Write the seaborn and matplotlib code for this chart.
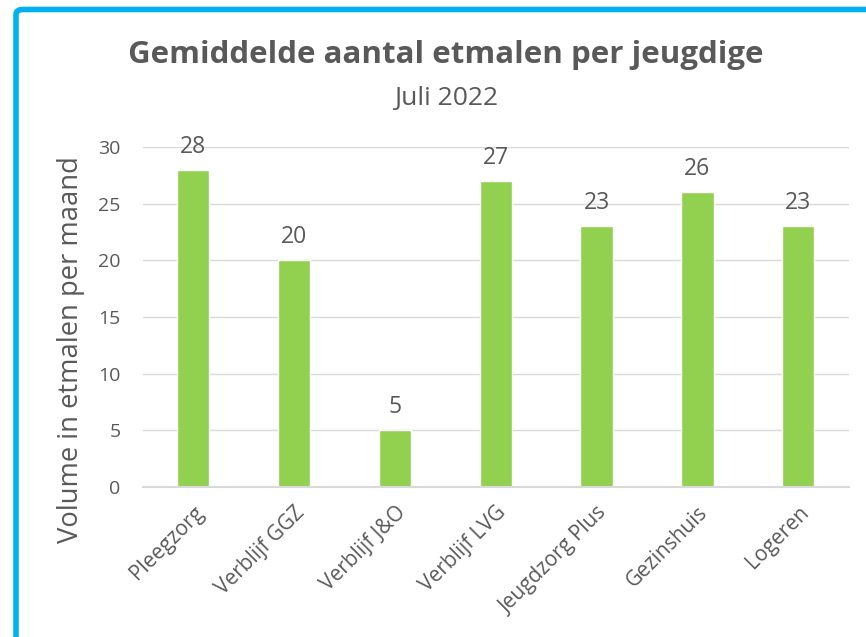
import matplotlib
matplotlib.use('Agg')
import matplotlib.pyplot as plt
import seaborn as sns
import pandas as pd
from matplotlib.patches import FancyBboxPatch

# Gegevens uit de grafiek
categorieen = ['Pleegzorg', 'Verblijf GGZ', 'Verblijf J&O', 'Verblijf LVG',
               'Jeugdzorg Plus', 'Gezinshuis', 'Logeren']
etmalen = [28, 20, 5, 27, 23, 26, 23]
y_ticks = [0, 5, 10, 15, 20, 25, 30]

titel = 'Gemiddelde aantal etmalen per jeugdige'
subtitel = 'Juli 2022'
y_label = 'Volume in etmalen per maand'

sns.set_theme(style='white')
plt.rcParams['font.family'] = ['Open Sans', 'DejaVu Sans']

tekst_kleur = '#595959'
groen = '#92D050'

df = pd.DataFrame({'categorie': categorieen, 'etmalen': etmalen})

fig = plt.figure(figsize=(8.66, 6.37), dpi=100)
ax = fig.add_axes([0.165, 0.2355, 0.815, 0.5335])

sns.barplot(data=df, x='categorie', y='etmalen', color=groen, width=0.32,
            saturation=1, ax=ax)

ax.set_ylim(0, 30)
ax.set_yticks(y_ticks)
ax.set_xlim(-0.5, len(categorieen) - 0.5)
ax.yaxis.grid(True, color='#D9D9D9', linewidth=1)
ax.set_axisbelow(True)
for kant in ['top', 'right', 'left']:
    ax.spines[kant].set_visible(False)
ax.spines['bottom'].set_color('#D9D9D9')
ax.spines['bottom'].set_linewidth(1.5)

ax.tick_params(axis='y', labelsize=14, colors=tekst_kleur, length=0, pad=16)
ax.tick_params(axis='x', labelsize=15, colors=tekst_kleur, length=0, pad=11)
plt.setp(ax.get_xticklabels(), rotation=45, ha='right', rotation_mode='anchor')

ax.set_xlabel('')
ax.set_ylabel(y_label, fontsize=19.7, color=tekst_kleur)
ax.yaxis.set_label_coords(-0.082, 0.403)

for cont in ax.containers:
    ax.bar_label(cont, fmt='%d', padding=8, fontsize=16.5, color=tekst_kleur)

fig.text(0.515, 0.914, titel, ha='center', va='center', fontsize=22.5,
         fontweight='bold', color=tekst_kleur)
fig.text(0.515, 0.846, subtitel, ha='center', va='center', fontsize=19,
         color=tekst_kleur)

# blauwe rand
rand = FancyBboxPatch((16 / 866, -0.1), 1.2, 1.1 - 9.5 / 637,
                      boxstyle='round,pad=0,rounding_size=0.008',
                      transform=fig.transFigure, fill=False,
                      edgecolor='#00B0F0', linewidth=4, clip_on=False)
fig.patches.append(rand)

fig.savefig('out.png', dpi=100)
